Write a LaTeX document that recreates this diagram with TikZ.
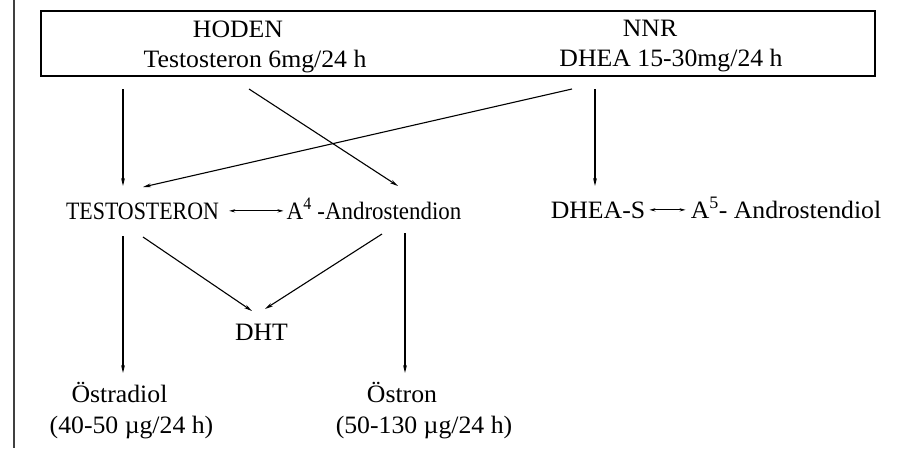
\documentclass[tikz,border=0pt]{standalone}
\usepackage{fontspec}
\setmainfont{Liberation Serif}[FakeStretch=1.03]
\usetikzlibrary{arrows.meta}
\begin{document}
\begin{tikzpicture}[x=1pt,y=-1pt,
  txt/.style={anchor=base,inner sep=0pt,font=\fontsize{25}{29}\selectfont},
  arr/.style={line width=1.1pt,-{Stealth[length=8pt,width=3.8pt]}},
  darr/.style={line width=1.1pt,{Stealth[length=6pt,width=3.2pt]}-{Stealth[length=6pt,width=3.2pt]}},
  boxst/.style={draw,line width=1.3pt,minimum width=834pt,minimum height=65pt,inner sep=0pt}]
\useasboundingbox (0,0) rectangle (916,448);
\draw[line width=1.3pt,black!75] (14,0) -- (14,448);
% top box
\node[boxst] (box) at (458,43.5) {};
\node[txt] (hoden) at (238,37) {HODEN};
\node[txt] (hodenT) at (255,67) {Testosteron 6mg/24 h};
\node[txt] (nnr) at (650,36.5) {NNR};
\node[txt] (nnrD) at (671,66) {DHEA 15-30mg/24 h};
% arrow ports on the box
\coordinate (p1) at (123,89);
\coordinate (p2) at (249,89);
\coordinate (p3) at (572,89);
\coordinate (p4) at (595,89);
% row 1
\node[txt] (testo) at (142.5,219) {\scalebox{0.85}[1]{TESTOSTERON}};
\node[txt] (a4) at (374,219) {\scalebox{0.89}[1]{A\textsuperscript{4} -Androstendion}};
\node[txt] (dheas) at (598,218) {DHEA-S};
\node[txt] (a5) at (786,218) {A\textsuperscript{5}- Androstendiol};
\coordinate (t1) at (123,186);
\coordinate (t2) at (398,186);
\coordinate (t3) at (143,187);
\coordinate (t4) at (595,186);
\draw[arr] (p1) -- (t1);
\draw[arr] (p2) -- (t2);
\draw[arr] (p3) -- (t3);
\draw[arr] (p4) -- (t4);
\draw[darr] ([xshift=10pt]testo.east) -- ([xshift=-3pt]testo.east -| a4.west);
\draw[darr] ([xshift=4pt]dheas.east) -- ([xshift=-5pt]dheas.east -| a5.west);
% row 2
\node[txt] (dht) at (261.5,340) {DHT};
\node[txt] (oestradiol) at (119.5,402) {Östradiol};
\node[txt] (oestradiolV) at (131.5,433) {(40-50 µg/24 h)};
\node[txt] (oestron) at (402,402) {Östron};
\node[txt] (oestronV) at (424,433) {(50-130 µg/24 h)};
\coordinate (q1) at (123,236);
\coordinate (q2) at (143,237);
\coordinate (q3) at (382,234);
\coordinate (q4) at (405,233);
\coordinate (e1) at (123,373);
\coordinate (e2) at (252,311);
\coordinate (e3) at (265,309);
\coordinate (e4) at (405,373);
\draw[arr] (q1) -- (e1);
\draw[arr] (q2) -- (e2);
\draw[arr] (q3) -- (e3);
\draw[arr] (q4) -- (e4);
\end{tikzpicture}
\end{document}
